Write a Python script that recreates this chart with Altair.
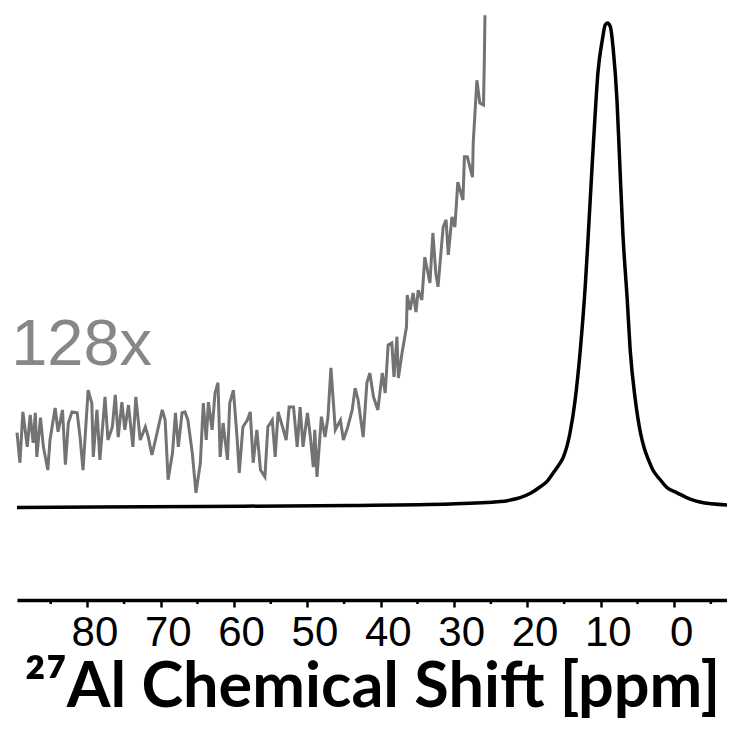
import altair as alt
import pandas as pd

# Main 27Al spectrum (black) - chemical shift (ppm) and relative intensity
main_ppm = [89.6, 64.6, 44.2, 30.5, 23.7, 22.4, 21.0, 19.6, 18.3, 17.3,
            16.5, 15.8, 15.1, 14.2, 13.5, 12.8, 12.1, 11.7, 11.2, 10.8,
            10.4, 9.8, 9.4, 9.1, 8.7, 8.3, 7.8, 7.4, 7.0, 6.4,
            6.0, 5.3, 4.6, 4.1, 3.5, 2.9, 1.9, 1.0, -0.4, -2.2,
            -3.5, -7.2]
main_int = [-0.1, 0.1, 0.3, 0.6, 1.1, 1.4, 1.9, 2.8, 4.1, 5.3,
            7.0, 8.5, 10.3, 15.3, 22.1, 32.4, 46.2, 56.5, 70.1, 80.4,
            89.5, 96.3, 99.4, 99.8, 99.0, 94.2, 83.9, 70.1, 56.5, 42.7,
            32.4, 22.1, 15.3, 12.2, 9.7, 7.6, 5.6, 4.0, 2.9, 1.6,
            1.0, 0.4]

# 128x magnified trace (grey)
zoom_ppm = [89.6, 89.2, 88.8, 88.2, 87.8, 87.4, 87.1, 86.9, 86.4, 86.0,
            85.4, 85.1, 84.4, 84.0, 83.4, 83.0, 82.6, 82.1, 81.4, 81.0,
            80.6, 79.9, 79.4, 79.2, 78.7, 78.3, 77.6, 77.2, 76.6, 76.2,
            75.8, 75.3, 74.9, 74.4, 73.8, 73.4, 72.8, 72.1, 71.7, 71.2,
            70.5, 69.8, 69.4, 69.0, 68.4, 68.0, 67.6, 67.1, 66.7, 66.3,
            65.7, 65.2, 64.6, 64.2, 63.8, 63.5, 63.0, 62.6, 62.2, 61.9,
            61.5, 60.9, 60.6, 60.1, 59.6, 59.3, 58.8, 58.2, 57.8, 57.4,
            56.9, 56.4, 55.8, 55.4, 54.8, 54.4, 54.0, 53.4, 52.9, 52.5,
            51.9, 51.4, 51.0, 50.6, 50.0, 49.6, 49.2, 49.0, 48.7, 48.1,
            47.6, 47.2, 46.8, 46.2, 45.5, 45.1, 44.5, 43.9, 43.5, 43.1,
            42.4, 41.9, 41.5, 41.0, 40.4, 39.8, 39.4, 39.0, 38.5, 38.2,
            37.8, 37.6, 37.1, 36.5, 36.4, 36.0, 35.6, 35.2, 34.9, 34.4,
            34.0, 33.3, 32.9, 32.5, 32.2, 31.5, 31.1, 30.8, 30.3, 29.9,
            29.5, 28.8, 28.6, 28.2, 27.5, 27.4, 26.9, 26.5, 26.0, 25.9,
            25.8]
zoom_int = [15.3, 9.1, 19.6, 12.4, 19.0, 13.2, 19.4, 10.3, 18.4, 12.4,
            7.6, 13.8, 20.4, 15.5, 20.0, 8.7, 17.3, 19.6, 19.4, 14.4,
            7.6, 24.1, 21.4, 10.3, 20.0, 9.7, 22.7, 13.8, 16.5, 23.1,
            14.4, 21.6, 15.9, 21.0, 12.4, 22.7, 13.8, 16.5, 14.4, 10.7,
            15.3, 20.0, 17.9, 5.6, 11.1, 19.4, 12.4, 19.4, 19.6, 17.9,
            11.1, 2.9, 9.1, 21.4, 13.8, 21.6, 15.9, 23.5, 25.6, 10.3,
            17.3, 9.7, 21.4, 24.1, 14.4, 7.0, 16.5, 17.9, 19.6, 9.1,
            15.9, 7.6, 6.2, 16.5, 17.9, 10.3, 19.6, 16.5, 13.8, 20.6,
            20.6, 12.4, 20.6, 12.4, 19.4, 14.4, 8.2, 15.9, 6.2, 18.6,
            14.4, 18.6, 28.7, 15.9, 17.9, 13.8, 16.5, 20.0, 24.5, 22.1,
            14.4, 25.6, 27.6, 22.7, 20.0, 27.6, 23.5, 33.4, 33.8, 26.8,
            35.1, 26.6, 31.8, 37.1, 43.7, 40.6, 44.1, 40.2, 44.7, 42.7,
            51.5, 46.2, 56.5, 48.2, 45.4, 57.7, 59.2, 52.0, 59.8, 57.7,
            67.0, 63.3, 72.2, 72.2, 68.0, 75.1, 88.0, 83.3, 82.9, 90.7,
            101.4]

major_ticks = [80, 70, 60, 50, 40, 30, 20, 10, 0]
minor_ticks = [85, 75, 65, 55, 45, 35, 25, 15, 5, -5]

label_text = ["128x"]
label_ppm = [90.4]
label_int = [29.3]

main_df = pd.DataFrame({"ppm": main_ppm, "intensity": main_int})
zoom_df = pd.DataFrame({"ppm": zoom_ppm, "intensity": zoom_int})
label_df = pd.DataFrame({"ppm": label_ppm, "intensity": label_int, "txt": label_text})
minor_df = pd.DataFrame({"ppm": minor_ticks})

W, H = 710, 592

x_scale = alt.Scale(domain=[-7.2, 89.6], reverse=True, nice=False, zero=False)
y_scale = alt.Scale(domain=[-19.2, 102.9], nice=False, zero=False)

x_axis = alt.Axis(
    title="²⁷Al Chemical Shift [ppm]",
    values=major_ticks,
    grid=False,
    domainColor="black",
    domainWidth=3.5,
    tickColor="black",
    tickWidth=2.5,
    tickSize=7,
    labelFont="Liberation Sans",
    labelFontSize=42,
    labelColor="black",
    labelPadding=5,
    labelOffset=7,
    labelOverlap=False,
    labelFlush=False,
    titleFont="Lato",
    titleFontWeight="bold",
    titleFontSize=63,
    titleColor="black",
    titlePadding=3,
)

X = alt.X("ppm:Q", scale=x_scale, axis=x_axis)
Y = alt.Y("intensity:Q", scale=y_scale, axis=None)

zoom_line = alt.Chart(zoom_df).mark_line(color="#737373", strokeWidth=3).encode(x=X, y=Y)

main_line = alt.Chart(main_df).mark_line(
    color="black", strokeWidth=3.5, interpolate="monotone"
).encode(x=X, y=Y)

minor = alt.Chart(minor_df).mark_rule(color="black", strokeWidth=2.5).encode(
    x=X,
    y=alt.value(H),
    y2=alt.value(H + 4),
)

label = alt.Chart(label_df).mark_text(
    align="left", baseline="alphabetic", font="Liberation Sans", fontSize=65, color="#878787"
).encode(x=X, y=Y, text=alt.Text("txt:N"))

chart = alt.layer(zoom_line, main_line, minor, label).properties(
    width=W,
    height=H,
    background="white",
    autosize="none",
    padding={"left": 9, "top": 0, "right": 0, "bottom": 123},
).configure_view(stroke=None)

chart.save("out.html", embed_options={"renderer": "svg", "actions": False})
